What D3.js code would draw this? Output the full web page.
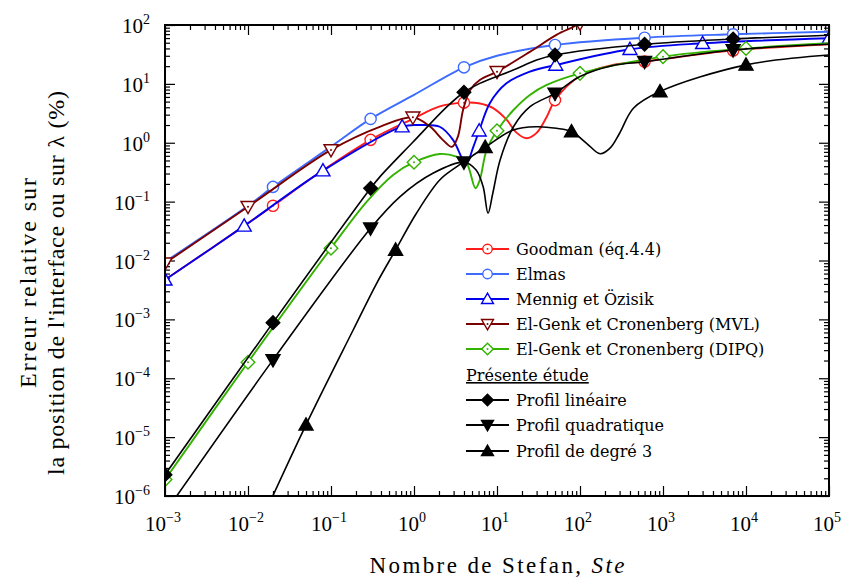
<!DOCTYPE html>
<html>
<head>
<meta charset="utf-8">
<script src="https://cdn.jsdelivr.net/npm/d3@7"></script>
<style>
  body { margin: 0; background: #fff; }
  text { fill: #000; }
</style>
</head>
<body>
<svg id="chart" width="846" height="580"></svg>
<script>
// ---- data: [Ste, erreur %] ----
const goodmanCurve = [[0.001,0.0047],[0.009,0.0387],[0.02,0.085],[0.08,0.34],[0.3,1.12],[1,2.6],[2,4.1],[4,4.8],[6,4.69],[8.9,3.9],[13.1,2.44],[17.3,1.47],[22.8,1.19],[30,1.47],[39.8,2.77],[50,5.3],[100,13.6],[250,21],[600,24],[7000,37],[1e5,47]];
const goodmanMarks = [[0.02,0.085],[0.3,1.12],[4,4.8],[50,5.3],[600,24],[7000,37]];

const elmasCurve = [[0.001,0.0095],[0.01,0.085],[0.02,0.178],[0.1,0.86],[0.3,2.54],[1,6.5],[4,19.1],[10,30],[50,45.7],[600,60.8],[7000,69.5],[1e5,77]];
const elmasMarks = [[0.02,0.178],[0.3,2.54],[4,19.1],[50,45.7],[600,60.8],[7000,69.5]];

const mennigCurve = [[0.001,0.0047],[0.009,0.0387],[0.08,0.336],[0.72,1.88],[1.18,2.0],[2.04,1.87],[2.95,1.12],[3.9,0.51],[4.3,0.45],[5.2,0.86],[6.1,1.6],[8.2,4.7],[13,10.2],[24.9,16.1],[51,20.9],[400,38.7],[3000,48.9],[1e5,59.4]];
const mennigMarks = [[0.001,0.0047],[0.009,0.0387],[0.08,0.336],[0.72,1.88],[6.1,1.6],[51,20.9],[400,38.7],[3000,48.9],[1e5,59.4]];

const mvlCurve = [[0.001,0.009],[0.01,0.082],[0.1,0.755],[0.4,1.9],[0.97,2.71],[1.56,1.88],[2.22,1.12],[2.86,0.85],[3.38,1.27],[3.9,3.6],[4.75,7.9],[6.2,11.6],[10,16.1],[24.9,35],[52,68],[100,107],[130,150]];
const mvlMarks = [[0.001,0.009],[0.01,0.082],[0.1,0.755],[0.97,2.71],[10,16.1],[100,107]];

const dipqCurve = [[0.001,1.9e-6],[0.01,1.87e-4],[0.1,0.0162],[0.27,0.1],[0.56,0.284],[1,0.467],[2.04,0.645],[3.25,0.58],[4.3,0.45],[5.5,0.169],[6.2,0.233],[7.5,0.755],[10,1.6],[15.8,3.6],[24.9,6.5],[39.8,9.6],[100,15.1],[1000,29],[1e4,40],[1e5,49]];
const dipqMarks = [[0.001,1.9e-6],[0.01,1.87e-4],[0.1,0.0162],[1,0.467],[10,1.6],[100,15.1],[1000,29],[1e4,40]];

const linCurve = [[0.001,2.3e-6],[0.02,8.8e-4],[0.3,0.169],[0.39,0.266],[0.98,1.04],[2.5,4.1],[4,7.2],[6.2,10.2],[15.7,17.2],[30,25.5],[50,31],[600,47],[7000,57.8],[1e5,67]];
const linMarks = [[0.001,2.3e-6],[0.02,8.8e-4],[0.3,0.169],[4,7.2],[50,31],[600,47],[7000,57.8]];

const quadCurve = [[0.001,5.2e-7],[0.02,2.05e-4],[0.3,0.0353],[0.68,0.122],[1.69,0.303],[4,0.467],[5.6,0.345],[6.8,0.18],[7.8,0.0635],[8.9,0.139],[10.9,0.51],[15.8,1.87],[25,4.1],[50,6.9],[100,13.3],[250,20.5],[600,23.8],[7000,37.6],[1e5,47]];
const quadMarks = [[0.02,2.05e-4],[0.3,0.0353],[4,0.467],[50,6.9],[600,23.8],[7000,37.6]];

const cubCurve = [[0.015,4.2e-7],[0.05,1.62e-5],[0.185,6.6e-4],[0.355,0.0041],[0.6,0.0151],[1.07,0.0635],[2.04,0.233],[3.25,0.39],[3.9,0.467],[7.2,0.84],[15.7,1.65],[30,1.87],[52,1.76],[79,1.55],[120,0.98],[175,0.65],[230,0.81],[300,1.45],[440,3.85],[920,7.4],[1e4,21],[1e5,31]];
const cubMarks = [[0.05,1.62e-5],[0.6,0.0151],[7.2,0.84],[79,1.55],[920,7.4],[1e4,21]];

const seriesNames = ["Goodman (éq.4.4)", "Elmas", "Mennig et Özisik", "El-Genk et Cronenberg (MVL)", "El-Genk et Cronenberg (DIPQ)", "Profil linéaire", "Profil quadratique", "Profil de degré 3"];
const seriesColors = ["#ff1c1c", "#3d6bff", "#0000ee", "#7a0000", "#33b300", "#000", "#000", "#000"];
const seriesMarkers = ["circleDot", "circle", "triUp", "triDownDot", "diamondDot", "diamondFill", "triDownFill", "triUpFill"];
const xExponents = [-3, -2, -1, 0, 1, 2, 3, 4, 5];
const yExponents = [-6, -5, -4, -3, -2, -1, 0, 1, 2];

const series = [
  { curve: goodmanCurve, marks: goodmanMarks },
  { curve: elmasCurve, marks: elmasMarks },
  { curve: mennigCurve, marks: mennigMarks },
  { curve: mvlCurve, marks: mvlMarks },
  { curve: dipqCurve, marks: dipqMarks },
  { curve: linCurve, marks: linMarks },
  { curve: quadCurve, marks: quadMarks },
  { curve: cubCurve, marks: cubMarks }
].map((s, i) => ({ ...s, name: seriesNames[i], color: seriesColors[i], marker: seriesMarkers[i] }));

// ---- layout ----
const svg = d3.select("#chart");
const plotL = 165, plotR = 829, plotT = 25, plotB = 496;

const x = d3.scaleLog().domain([1e-3, 1e5]).range([plotL, plotR]);
const y = d3.scaleLog().domain([1e-6, 1e2]).range([plotB, plotT]);

const serif = "'Liberation Serif', 'Times New Roman', serif";

// clip for curves
svg.append("defs").append("clipPath").attr("id", "plot")
  .append("rect").attr("x", plotL).attr("y", plotT)
  .attr("width", plotR - plotL).attr("height", plotB - plotT);

// ---- ticks (inward, all four sides) ----
function minorValues(exps) {
  const out = [];
  for (let k = exps[0]; k < exps[exps.length - 1]; k++)
    for (let m = 2; m <= 9; m++) out.push(m * Math.pow(10, k));
  return out;
}
const xMajor = xExponents.map((e) => Math.pow(10, e));
const yMajor = yExponents.map((e) => Math.pow(10, e));
const xMinor = minorValues(xExponents);
const yMinor = minorValues(yExponents);

function addTicks(axisFn, scale, pos, values, size) {
  const g = svg.append("g").attr("transform", pos)
    .call(axisFn(scale).tickValues(values).tickSize(-size).tickSizeOuter(0).tickFormat(""));
  g.select(".domain").remove();
  g.selectAll("line").attr("stroke", "#000").attr("stroke-width", 1.2);
}
[[xMajor, 10], [xMinor, 5]].forEach(([vals, len]) => {
  addTicks(d3.axisBottom, x, `translate(0,${plotB})`, vals, len);
  addTicks(d3.axisTop, x, `translate(0,${plotT})`, vals, len);
});
[[yMajor, 10], [yMinor, 5]].forEach(([vals, len]) => {
  addTicks(d3.axisLeft, y, `translate(${plotL},0)`, vals, len);
  addTicks(d3.axisRight, y, `translate(${plotR},0)`, vals, len);
});

// tick labels 10^n
xExponents.forEach((e) => {
  const t = svg.append("text")
    .attr("x", x(Math.pow(10, e)) - 2).attr("y", plotB + 35)
    .attr("text-anchor", "middle")
    .style("font-family", serif).style("font-size", "21px");
  t.append("tspan").text("10");
  t.append("tspan").attr("dy", -9).style("font-size", "14px").text(e < 0 ? "\u2212" + (-e) : e);
});
yExponents.forEach((e) => {
  const t = svg.append("text")
    .attr("x", 150).attr("y", y(Math.pow(10, e)) + 8)
    .attr("text-anchor", "end")
    .style("font-family", serif).style("font-size", "21px");
  t.append("tspan").text("10");
  t.append("tspan").attr("dy", -9).style("font-size", "14px").text(e < 0 ? "\u2212" + (-e) : e);
});

// axis titles
const xt = svg.append("text")
  .attr("x", 497).attr("y", 573)
  .attr("text-anchor", "middle")
  .attr("textLength", 255).attr("lengthAdjust", "spacing")
  .style("font-family", serif).style("font-size", "23px");
xt.append("tspan").text("Nombre de Stefan, ");
xt.append("tspan").style("font-style", "italic").text("Ste");

const yt = svg.append("g").attr("transform", "translate(0,283) rotate(-90)");
yt.append("text").attr("x", 0).attr("y", 36).attr("text-anchor", "middle")
  .attr("textLength", 210).attr("lengthAdjust", "spacing")
  .style("font-family", serif).style("font-size", "24px").text("Erreur relative sur");
yt.append("text").attr("x", 0).attr("y", 64).attr("text-anchor", "middle")
  .attr("textLength", 384).attr("lengthAdjust", "spacing")
  .style("font-family", serif).style("font-size", "24px").text("la position de l'interface ou sur \u03bb (%)");

// ---- markers ----
function drawMarker(g, type, color, cx, cy, scale = 1) {
  const filled = type.endsWith("Fill");
  const dot = type.endsWith("Dot");
  const base = type.replace(/Fill|Dot/, "");
  let el;
  if (base === "circle") {
    el = g.append("circle").attr("cx", cx).attr("cy", cy).attr("r", 5.6 * scale);
  } else {
    let pts;
    if (base === "triUp") { const s = 7 * scale; pts = [[0, -s], [s, s * 0.75], [-s, s * 0.75]]; }
    else if (base === "triDown") { const s = 7 * scale; pts = [[0, s], [s, -s * 0.75], [-s, -s * 0.75]]; }
    else { const s = 6.8 * scale; pts = [[0, -s], [s, 0], [0, s], [-s, 0]]; }
    el = g.append("path").attr("d", "M" + pts.map((p) => [cx + p[0], cy + p[1]].join(",")).join("L") + "Z");
  }
  el.attr("fill", filled ? color : "#fff").attr("stroke", color).attr("stroke-width", 1.4);
  if (dot) g.append("circle").attr("cx", cx).attr("cy", cy).attr("r", 1).attr("fill", color);
}

// ---- curves ----
const line = d3.line()
  .x((d) => x(d[0]))
  .y((d) => y(d[1]))
  .curve(d3.curveCatmullRom.alpha(0.5));

const plot = svg.append("g").attr("clip-path", "url(#plot)");
series.forEach((s) => {
  plot.append("path").datum(s.curve)
    .attr("d", line)
    .attr("fill", "none")
    .attr("stroke", s.color)
    .attr("stroke-width", s.color === "#000" ? 1.6 : 1.9);
  s.marks.forEach((m) => drawMarker(plot, s.marker, s.color, x(m[0]), y(m[1])));
});

// frame
svg.append("rect").attr("x", plotL).attr("y", plotT)
  .attr("width", plotR - plotL).attr("height", plotB - plotT)
  .attr("fill", "none").attr("stroke", "#000").attr("stroke-width", 2);

// ---- legend ----
const legendRows = [249, 274, 299, 324, 349, 0, 400, 425, 451];
const legend = svg.append("g");
const legendFont = "'DejaVu Serif', serif";
series.forEach((s, i) => {
  const ry = i < 5 ? legendRows[i] : legendRows[i + 1];
  legend.append("line").attr("x1", 466).attr("x2", 509).attr("y1", ry).attr("y2", ry)
    .attr("stroke", s.color).attr("stroke-width", 1.9);
  drawMarker(legend, s.marker, s.color, 487.5, ry, 0.85);
  legend.append("text").attr("x", 516).attr("y", ry + 6)
    .style("font-family", legendFont).style("font-size", "16px").text(s.name);
});
legend.append("text").attr("x", 466).attr("y", 381)
  .style("font-family", legendFont).style("font-size", "16px")
  .style("text-decoration", "underline").text("Présente étude");
</script>
</body>
</html>
